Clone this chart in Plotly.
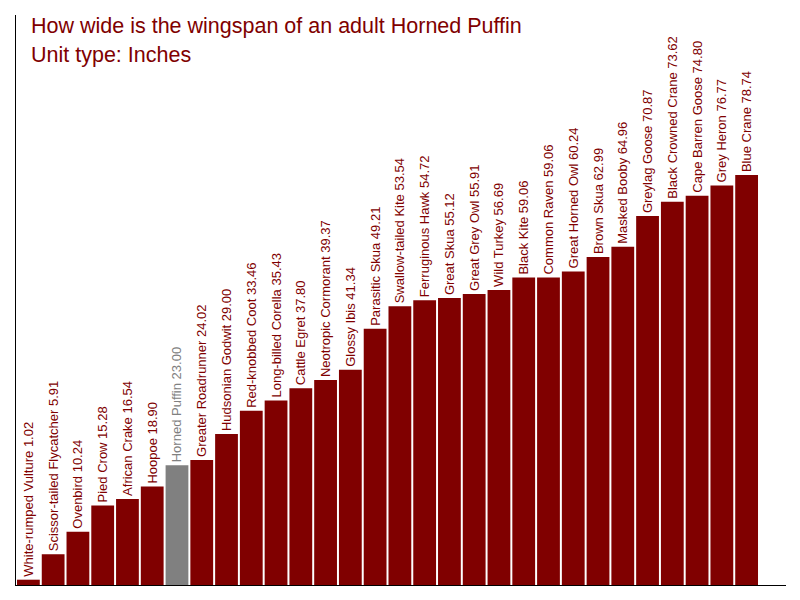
import plotly.graph_objects as go

# ==============================
# Data
# ==============================
birds = [
    "White-rumped Vulture", "Scissor-tailed Flycatcher", "Ovenbird", "Pied Crow",
    "African Crake", "Hoopoe", "Horned Puffin", "Greater Roadrunner",
    "Hudsonian Godwit", "Red-knobbed Coot", "Long-billed Corella", "Cattle Egret",
    "Neotropic Cormorant", "Glossy Ibis", "Parasitic Skua", "Swallow-tailed Kite",
    "Ferruginous Hawk", "Great Skua", "Great Grey Owl", "Wild Turkey",
    "Black Kite", "Common Raven", "Great Horned Owl", "Brown Skua",
    "Masked Booby", "Greylag Goose", "Black Crowned Crane", "Cape Barren Goose",
    "Grey Heron", "Blue Crane",
]
wingspan = [
    1.02, 5.91, 10.24, 15.28, 16.54, 18.90, 23.00, 24.02,
    29.00, 33.46, 35.43, 37.80, 39.37, 41.34, 49.21, 53.54,
    54.72, 55.12, 55.91, 56.69, 59.06, 59.06, 60.24, 62.99,
    64.96, 70.87, 73.62, 74.80, 76.77, 78.74,
]
highlight = "Horned Puffin"

MAROON = "#800000"
GREY = "#808080"
FONT = "Liberation Sans, Arial"

colors = [GREY if b == highlight else MAROON for b in birds]
labels = [f"{b} {v:.2f}" for b, v in zip(birds, wingspan)]

# page body adds ~8px offset, margins compensate for it
PLOT_H = 570

fig = go.Figure(go.Bar(
    x=list(range(len(birds))),
    y=wingspan,
    marker=dict(color=colors, line=dict(width=0)),
    text=labels,
    textposition="outside",
    textangle=-90,
    textfont=dict(family=FONT, size=13, color=colors),
    constraintext="none",
    cliponaxis=False,
    hovertext=birds,
))

fig.update_layout(
    width=800, height=600,
    margin=dict(l=8, r=22, t=7, b=23),
    paper_bgcolor="white", plot_bgcolor="white",
    showlegend=False,
    bargap=0.08,
    font=dict(family=FONT, color=MAROON),
    xaxis=dict(range=[-0.5, 30.59], showticklabels=False, showgrid=False,
               zeroline=False, ticks="", showline=True, linecolor="black", linewidth=1),
    yaxis=dict(range=[0, 109.5], showticklabels=False, showgrid=False,
               zeroline=False, ticks="", showline=True, linecolor="black", linewidth=1),
    annotations=[
        dict(text="How wide is the wingspan of an adult Horned Puffin",
             xref="paper", yref="paper", x=13 / 770, y=1 + 3 / PLOT_H,
             xanchor="left", yanchor="top", showarrow=False,
             font=dict(size=21.5, color=MAROON)),
        dict(text="Unit type: Inches",
             xref="paper", yref="paper", x=13 / 770, y=1 - 26 / PLOT_H,
             xanchor="left", yanchor="top", showarrow=False,
             font=dict(size=21.5, color=MAROON)),
    ],
)

fig.write_html("out.html")
